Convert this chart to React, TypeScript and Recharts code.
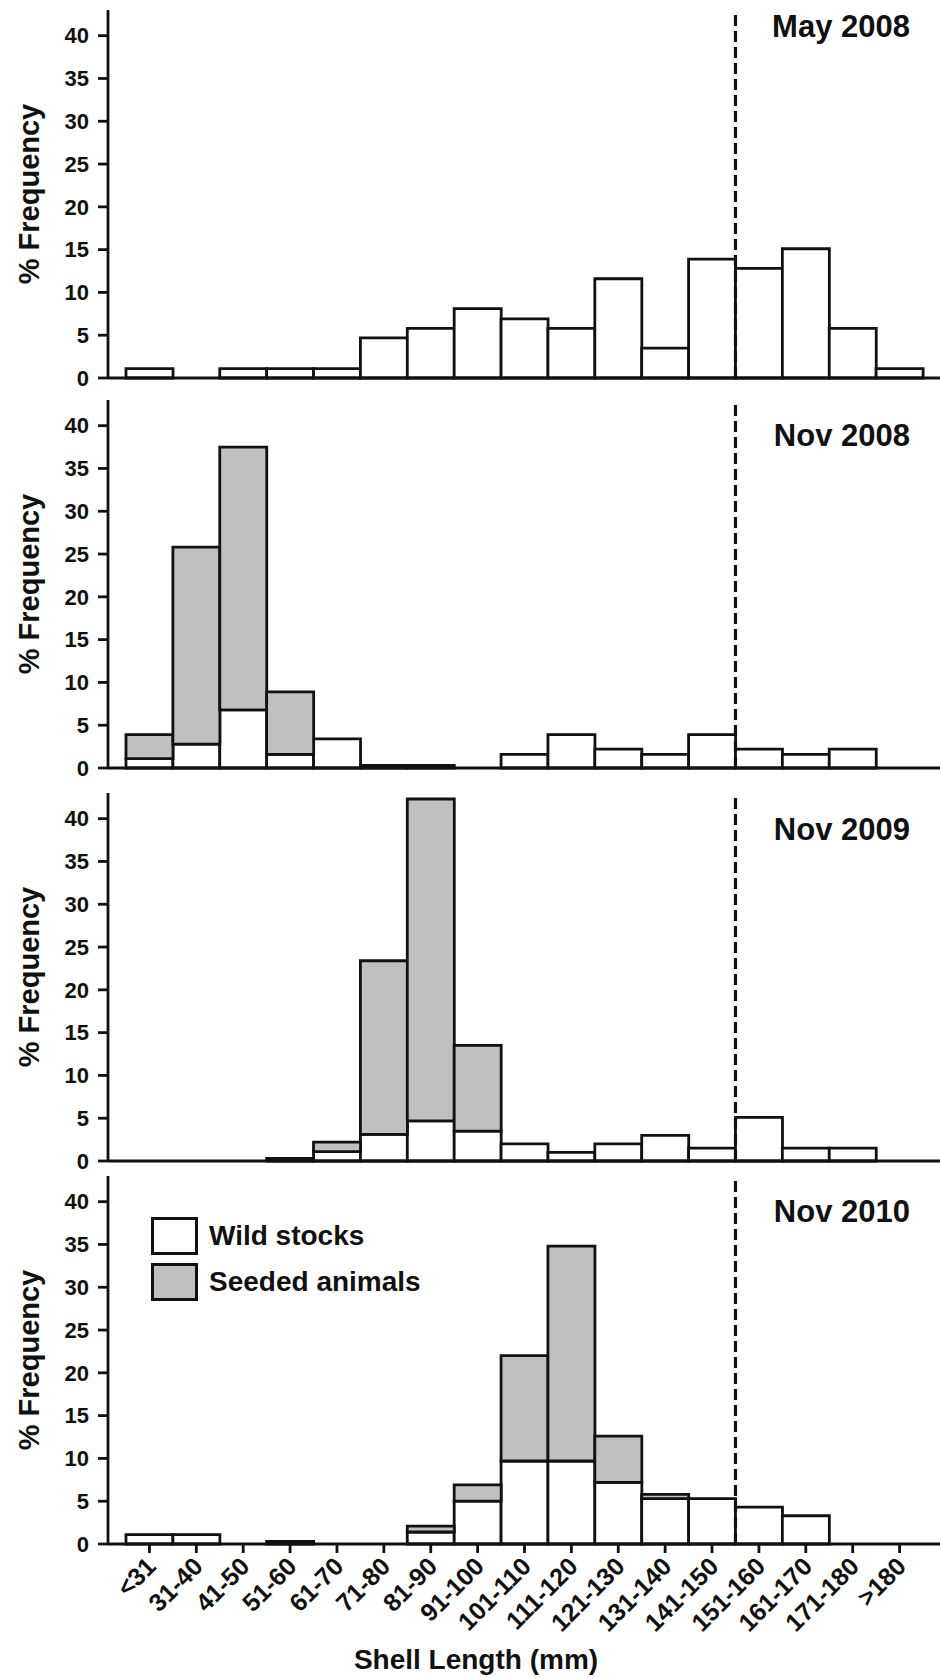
import React from "react"
import { Bar, BarChart, Label, Legend, ReferenceLine, XAxis, YAxis } from "recharts"

// shell length classes (mm)
const SIZE_CLASSES = [
  "<31", "31-40", "41-50", "51-60", "61-70", "71-80", "81-90", "91-100",
  "101-110", "111-120", "121-130", "131-140", "141-150", "151-160",
  "161-170", "171-180", ">180",
]

// % frequency, wild stocks (white) and seeded animals (grey, stacked on top)
const MAY_2008_WILD = [1.1, 0, 1.1, 1.1, 1.1, 4.7, 5.8, 8.1, 6.9, 5.8, 11.6, 3.5, 13.9, 12.8, 15.1, 5.8, 1.1]
const MAY_2008_SEEDED = [0, 0, 0, 0, 0, 0, 0, 0, 0, 0, 0, 0, 0, 0, 0, 0, 0]

const NOV_2008_WILD = [1.1, 2.8, 6.8, 1.6, 3.4, 0, 0, 0, 1.6, 3.9, 2.2, 1.6, 3.9, 2.2, 1.6, 2.2, 0]
const NOV_2008_SEEDED = [2.8, 23.0, 30.7, 7.3, 0, 0.3, 0.3, 0, 0, 0, 0, 0, 0, 0, 0, 0, 0]

const NOV_2009_WILD = [0, 0, 0, 0, 1.1, 3.1, 4.7, 3.5, 2.0, 1.0, 2.0, 3.0, 1.5, 5.1, 1.5, 1.5, 0]
const NOV_2009_SEEDED = [0, 0, 0, 0.3, 1.1, 20.3, 37.6, 10.0, 0, 0, 0, 0, 0, 0, 0, 0, 0]

const NOV_2010_WILD = [1.1, 1.1, 0, 0, 0, 0, 1.4, 5.0, 9.7, 9.7, 7.2, 5.3, 5.3, 4.3, 3.3, 0, 0]
const NOV_2010_SEEDED = [0, 0, 0, 0.3, 0, 0, 0.7, 1.9, 12.3, 25.1, 5.4, 0.5, 0, 0, 0, 0, 0]

const Y_TICKS = [0, 5, 10, 15, 20, 25, 30, 35, 40]
const LEGAL_SIZE_START = "151-160"
const LEGEND_ORDER = ["Wild stocks", "Seeded animals"]

const FONT = '"Liberation Sans", Arial, Helvetica, sans-serif'
const INK = "#111"
const SEEDED_GREY = "#c0c0c0"
const LINE_W = 2.8

const PLOT_HEIGHT = 368
const TOP_PAD = 10

function buildRows(wild: number[], seeded: number[]) {
  return SIZE_CLASSES.map((size, i) => ({ size, wild: wild[i], seeded: seeded[i] }))
}

const SlantTick = (props: any) => {
  const { x, y, payload } = props
  const tx = x + 8
  const ty = y + 13
  return (
    <text
      x={tx}
      y={ty}
      textAnchor="end"
      transform={`rotate(-45, ${tx}, ${ty})`}
      fill={INK}
      fontSize={25}
      fontWeight={700}
      fontFamily={FONT}
    >
      {payload.value}
    </text>
  )
}

const FrequencyLabel = (props: any) => {
  const { viewBox } = props
  const cx = viewBox.x + 29
  const cy = viewBox.y + viewBox.height / 2
  return (
    <text
      x={cx}
      y={cy}
      textAnchor="middle"
      dominantBaseline="central"
      transform={`rotate(-90, ${cx}, ${cy})`}
      fill={INK}
      fontSize={29}
      fontWeight={700}
      fontFamily={FONT}
    >
      % Frequency
    </text>
  )
}

const ShellLengthLabel = (props: any) => {
  const { viewBox } = props
  return (
    <text
      x={viewBox.x + 368}
      y={viewBox.y + 125}
      textAnchor="middle"
      fill={INK}
      fontSize={28}
      fontWeight={700}
      fontFamily={FONT}
    >
      Shell Length (mm)
    </text>
  )
}

const LegendBoxes = ({ payload }: any) => {
  const items = [...(payload || [])].sort(
    (a: any, b: any) => LEGEND_ORDER.indexOf(a.value) - LEGEND_ORDER.indexOf(b.value)
  )
  return (
    <div style={{ display: "flex", flexDirection: "column", gap: 8 }}>
      {items.map((entry: any) => (
        <div key={entry.value} style={{ display: "flex", alignItems: "center" }}>
          <span
            style={{
              display: "inline-block",
              boxSizing: "border-box",
              width: 47,
              height: 38,
              background: entry.color,
              border: `3px solid ${INK}`,
            }}
          />
          <span
            style={{
              marginLeft: 11,
              fontFamily: FONT,
              fontWeight: 700,
              fontSize: 28,
              color: INK,
            }}
          >
            {entry.value}
          </span>
        </div>
      ))}
    </div>
  )
}

interface PanelProps {
  title: string
  wild: number[]
  seeded: number[]
  plotTop: number
  titleBaseline: number
  bottomAxis?: boolean
}

function Panel({ title, wild, seeded, plotTop, titleBaseline, bottomAxis }: PanelProps) {
  const rows = buildRows(wild, seeded)
  const axisHeight = bottomAxis ? 135 : 14
  const height = TOP_PAD + PLOT_HEIGHT + axisHeight
  const titleSize = 31

  return (
    <div style={{ position: "absolute", left: 0, top: plotTop - TOP_PAD, width: 940, height }}>
      <BarChart
        width={940}
        height={height}
        data={rows}
        margin={{ top: TOP_PAD, right: 0, bottom: 0, left: 0 }}
        barCategoryGap={0}
        barGap={0}
      >
        <XAxis
          dataKey="size"
          interval={0}
          padding={{ left: 18, right: 17 }}
          height={axisHeight}
          axisLine={{ stroke: INK, strokeWidth: LINE_W }}
          tickLine={{ stroke: INK, strokeWidth: LINE_W }}
          tickSize={9}
          tick={bottomAxis ? <SlantTick /> : false}
        >
          {bottomAxis && <Label content={ShellLengthLabel} />}
        </XAxis>
        <YAxis
          domain={[0, 43]}
          ticks={Y_TICKS}
          interval={0}
          width={108}
          axisLine={{ stroke: INK, strokeWidth: LINE_W }}
          tickLine={{ stroke: INK, strokeWidth: LINE_W }}
          tickSize={10}
          tickMargin={9}
          tick={{ fill: INK, fontSize: 22, fontWeight: 700, fontFamily: FONT }}
        >
          <Label content={FrequencyLabel} />
        </YAxis>
        {bottomAxis && (
          <Legend
            layout="vertical"
            align="center"
            verticalAlign="middle"
            content={<LegendBoxes />}
            wrapperStyle={{ top: 51, left: 151 }}
          />
        )}
        <Bar
          dataKey="wild"
          name="Wild stocks"
          stackId="freq"
          fill="#ffffff"
          stroke={INK}
          strokeWidth={LINE_W}
          isAnimationActive={false}
        />
        <Bar
          dataKey="seeded"
          name="Seeded animals"
          stackId="freq"
          fill={SEEDED_GREY}
          stroke={INK}
          strokeWidth={LINE_W}
          isAnimationActive={false}
        />
        <ReferenceLine
          x={LEGAL_SIZE_START}
          position="start"
          stroke={INK}
          strokeWidth={3.2}
          strokeDasharray="11 5"
        />
      </BarChart>
      <div
        style={{
          position: "absolute",
          right: 30,
          top: titleBaseline - (plotTop - TOP_PAD) - 0.8465 * titleSize,
          fontFamily: FONT,
          fontWeight: 700,
          fontSize: titleSize,
          lineHeight: `${titleSize}px`,
          color: INK,
          whiteSpace: "nowrap",
        }}
      >
        {title}
      </div>
    </div>
  )
}

export default function App() {
  return (
    <div
      style={{
        position: "absolute",
        left: 0,
        top: 0,
        width: 940,
        height: 1679,
        background: "#fff",
        overflow: "hidden",
      }}
    >
      <Panel title="May 2008" wild={MAY_2008_WILD} seeded={MAY_2008_SEEDED} plotTop={10} titleBaseline={37} />
      <Panel title="Nov 2008" wild={NOV_2008_WILD} seeded={NOV_2008_SEEDED} plotTop={400} titleBaseline={446} />
      <Panel title="Nov 2009" wild={NOV_2009_WILD} seeded={NOV_2009_SEEDED} plotTop={793} titleBaseline={840} />
      <Panel
        title="Nov 2010"
        wild={NOV_2010_WILD}
        seeded={NOV_2010_SEEDED}
        plotTop={1176}
        titleBaseline={1222}
        bottomAxis
      />
    </div>
  )
}
